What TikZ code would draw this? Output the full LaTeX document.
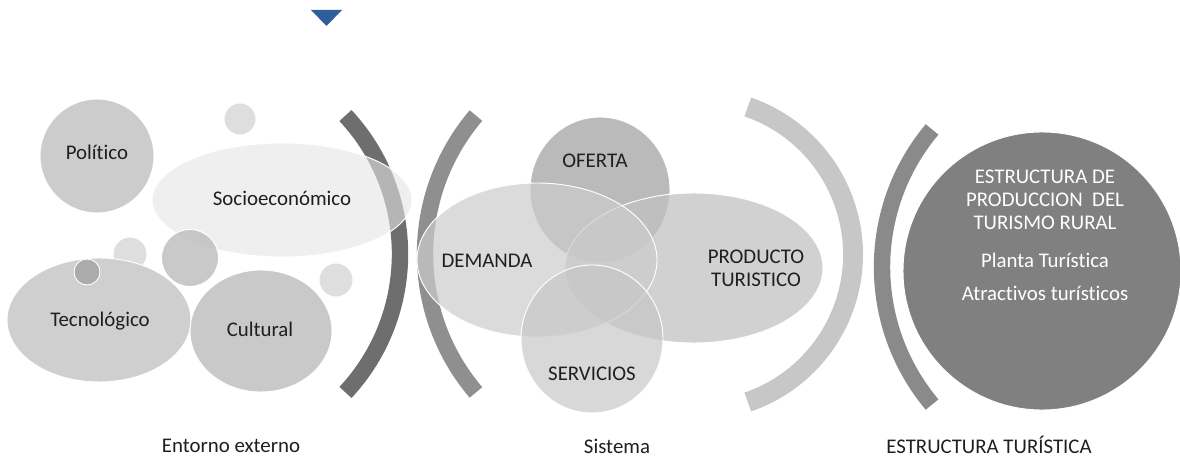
\documentclass[tikz,border=0pt]{standalone}
\usepackage{fontspec}
\setmainfont{Carlito}[Ligatures=NoCommon]
\usepackage{tikz}
\tikzset{>={stealth}}
\tikzset{
  blob/.style={fill=#1,draw=white,line width=0.8pt},
  ring/.style={draw=#1,line width=14pt},
  lbl/.style={font=\fontsize{17.8}{19.5}\selectfont,text=black!88,align=center},
}

\begin{document}
\begin{tikzpicture}[x=0.03cm,y=0.03cm]
    \useasboundingbox (0,0) rectangle (1180,-460);
    % marker
    \fill[fill={rgb,255:red,46;green,95;blue,154}] (311,-10)--(342,-10)--(326.5,-26)--cycle;
    % arcs
    \coordinate (c1) at (197,-254);
    \coordinate (c2) at (638.6,-254);
    \coordinate (c3) at (697,-254.5);
    \coordinate (c4) at (1096,-267);
    \draw[ring=black!57] ([shift={(-43:203)}]c1) arc[start angle=-43,end angle=43,radius=203];
    \draw[ring=black!44] ([shift={(139.6:213.6)}]c2) arc[start angle=139.6,end angle=220.4,radius=213.6];
    \draw[ring=black!22,line width=17pt] ([shift={(-71:156)}]c3) arc[start angle=-71,end angle=71,radius=156];
    \draw[ring=black!46] ([shift={(140:214)}]c4) arc[start angle=140,end angle=220,radius=214];
    % entorno externo
    \draw[blob=black!20] (97,-156) circle[radius=57];
    \draw[blob=black!13] (240,-119) circle[radius=16];
    \draw[blob=black!10,fill opacity=0.6] (282,-200) ellipse[x radius=130,y radius=57];
    \draw[blob=black!13] (130,-254) circle[radius=17];
    \draw[blob=black!19] (99,-320) ellipse[x radius=92,y radius=62];
    \draw[blob=black!25,fill opacity=0.85] (190,-258) circle[radius=28.5];
    \draw[blob=black!33] (87,-272) circle[radius=13];
    \draw[blob=black!21] (261,-331) ellipse[x radius=71,y radius=61];
    \draw[blob=black!13] (336,-280) circle[radius=17];
    \node[lbl] (pol) at (97,-152) {Político};
    \node[lbl] (soc) at (282,-198) {Socioeconómico};
    \node[lbl] (tec) at (100,-321) {Tecnológico};
    \node[lbl] (cul) at (260,-329) {Cultural};
    % sistema
    \draw[blob=black!27] (600,-190) ellipse[x radius=70,y radius=73];
    \draw[blob=black!24,fill opacity=0.75] (694,-268) ellipse[x radius=129,y radius=75];
    \draw[blob=black!20,fill opacity=0.7] (537,-260) ellipse[x radius=120,y radius=77];
    \draw[blob=black!22,fill opacity=0.7] (592,-339) ellipse[x radius=71,y radius=74];
    \node[lbl] (ofe) at (595,-161) {OFERTA};
    \node[lbl] (dem) at (487,-261) {DEMANDA};
    \node[lbl] (pro) at (756,-268) {PRODUCTO\\TURISTICO};
    \node[lbl] (ser) at (592,-374) {SERVICIOS};
    % estructura
    \draw[blob=black!50] (1042,-271) circle[radius=139];
    \node[lbl,text=white] (est) at (1045,-200) {ESTRUCTURA DE\\PRODUCCION\ \ DEL\\TURISMO RURAL};
    \node[lbl,text=white] (pla) at (1045,-260) {Planta Turística};
    \node[lbl,text=white] (atr) at (1045,-293) {Atractivos turísticos};
    % etiquetas
    \node[lbl] (ent) at (231,-446) {Entorno externo};
    \node[lbl] (sis) at (617,-446) {Sistema};
    \node[lbl] (tur) at (989,-445) {ESTRUCTURA TURÍSTICA};
\end{tikzpicture}
\end{document}
